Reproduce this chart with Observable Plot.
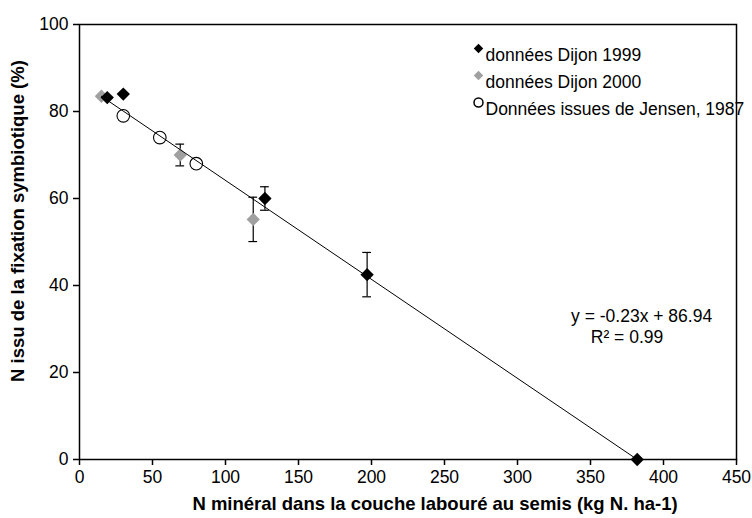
<!DOCTYPE html>
<html><head><meta charset="utf-8">
<script src="https://cdn.jsdelivr.net/npm/d3@7"></script>
<script src="https://cdn.jsdelivr.net/npm/@observablehq/plot@0.6"></script>
<style>body{margin:0;background:#fff}svg{display:block}</style>
</head><body><div id="chart"></div>
<script>
// ---- data ----
const x1999 = [19, 30, 127, 197, 382];
const y1999 = [83.2, 84, 60, 42.5, 0];
const e1999 = [0, 0, 2.7, 5.1, 0];
const x2000 = [15, 69, 119];
const y2000 = [83.5, 70, 55.2];
const e2000 = [0, 2.5, 5.1];
const xJensen = [30, 55, 80];
const yJensen = [79, 74, 68];
const trendX = [15, 382];
const trendY = [83.5, 0];
const xTicks = [0, 50, 100, 150, 200, 250, 300, 350, 400, 450];
const yTicks = [0, 20, 40, 60, 80, 100];
const legendLabels = ["données Dijon 1999", "données Dijon 2000", "Données issues de Jensen, 1987"];
const equationText = ["y = -0.23x + 86.94", "R² = 0.99"];
const xTitle = "N minéral dans la couche labouré au semis (kg N. ha-1)";
const yTitle = "N issu de la fixation symbiotique (%)";

const d1999 = x1999.map((x, i) => ({x, y: y1999[i], e: e1999[i]}));
const d2000 = x2000.map((x, i) => ({x, y: y2000[i], e: e2000[i]}));
const dJ = xJensen.map((x, i) => ({x, y: yJensen[i]}));
const trend = trendX.map((x, i) => ({x, y: trendY[i]}));
const errs = [...d2000, ...d1999].filter(d => d.e > 0);
const cap = 3;
const GRAY = "#a0a0a0";
const FONT = "Liberation Sans, Arial, sans-serif";
const FS = 17.5;

const legendDy = [24, 51, 78];
const legendSym = [
  {symbol: "diamond2", r: 4.3, fill: "#000", stroke: "none"},
  {symbol: "diamond2", r: 4.3, fill: GRAY, stroke: "none"},
  {symbol: "circle", r: 4.5, fill: "#fff", stroke: "#000"}
];

const chart = Plot.plot({
  width: 752, height: 518,
  marginLeft: 79, marginRight: 16, marginTop: 24, marginBottom: 59,
  style: {fontFamily: FONT, fontSize: FS + "px", color: "#000", background: "#fff"},
  x: {domain: [0, 450]},
  y: {domain: [0, 100]},
  marks: [
    Plot.frame({stroke: "#000", strokeWidth: 1.5}),
    Plot.axisX({ticks: xTicks, tickSize: 6, tickPadding: 5, label: null, fontSize: FS, strokeWidth: 1.5}),
    Plot.axisY({ticks: yTicks, tickSize: 6, tickPadding: 5, label: null, fontSize: FS, strokeWidth: 1.5}),
    Plot.ruleX(errs, {x: "x", y1: d => d.y - d.e, y2: d => d.y + d.e, stroke: "#000", strokeWidth: 1.2}),
    Plot.ruleY(errs, {y: d => d.y - d.e, x1: d => d.x - cap, x2: d => d.x + cap, stroke: "#000", strokeWidth: 1.2}),
    Plot.ruleY(errs, {y: d => d.y + d.e, x1: d => d.x - cap, x2: d => d.x + cap, stroke: "#000", strokeWidth: 1.2}),
    Plot.dot(d2000, {x: "x", y: "y", symbol: "diamond2", r: 6, fill: GRAY, stroke: "none"}),
    Plot.dot(d1999, {x: "x", y: "y", symbol: "diamond2", r: 6, fill: "#000", stroke: "none"}),
    Plot.dot(dJ, {x: "x", y: "y", symbol: "circle", r: 6.3, fill: "#fff", stroke: "#000", strokeWidth: 1.1}),
    Plot.line(trend, {x: "x", y: "y", stroke: "#000", strokeWidth: 1}),
    // legend
    ...legendLabels.map((t, i) => Plot.dot([t], {frameAnchor: "top-left", dx: 399, dy: legendDy[i], ...legendSym[i]})),
    ...legendLabels.map((t, i) => Plot.text([t], {frameAnchor: "top-left", dx: 406, dy: legendDy[i], text: d => d, textAnchor: "start", fontSize: FS, fill: "#000"})),
    // regression annotation
    Plot.text([equationText[0]], {x: () => 385, y: () => 32.9, text: d => d, textAnchor: "middle", fontSize: FS, fill: "#000"}),
    Plot.text([equationText[1]], {x: () => 375, y: () => 28.1, text: d => d, textAnchor: "middle", fontSize: FS, fill: "#000"}),
    // axis titles
    Plot.text([xTitle], {frameAnchor: "bottom", dx: 27, dy: 50, text: d => d, textAnchor: "middle", fontWeight: "bold", fontSize: 18.5, fill: "#000"}),
    Plot.text([yTitle], {frameAnchor: "left", dx: -61, dy: -21, rotate: -90, text: d => d, textAnchor: "middle", fontWeight: "bold", fontSize: 18.5, fill: "#000"})
  ]
});
document.getElementById("chart").append(chart);
</script>
</body></html>
